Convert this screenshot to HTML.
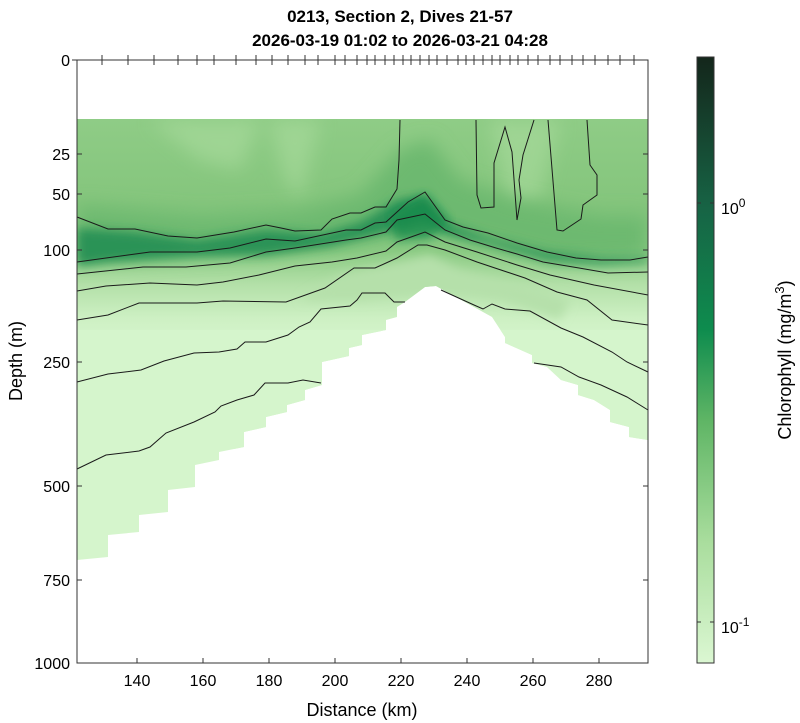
<!DOCTYPE html>
<html><head><style>body{margin:0;background:#fff}svg{display:block}text{font-family:"Liberation Sans",sans-serif}</style></head><body>
<svg width="800" height="723" viewBox="0 0 800 723">
<defs>
<linearGradient id="cb" x1="0" y1="1" x2="0" y2="0">
<stop offset="0" stop-color="#dbf7d2"/><stop offset="0.2" stop-color="#a9dd9d"/><stop offset="0.4" stop-color="#5fb565"/><stop offset="0.55" stop-color="#0e8c4e"/><stop offset="0.75" stop-color="#176445"/><stop offset="1" stop-color="#14261b"/>
</linearGradient>
<linearGradient id="main" x1="0" y1="119" x2="0" y2="340" gradientUnits="userSpaceOnUse">
<stop offset="0" stop-color="#8fcc86"/><stop offset="0.4" stop-color="#84c57c"/><stop offset="0.6" stop-color="#8ccb84"/><stop offset="0.75" stop-color="#b3e0a8"/><stop offset="0.9" stop-color="#cdf0c3"/><stop offset="1" stop-color="#d5f5cc"/>
</linearGradient>
<filter id="bl" x="-10%" y="-50%" width="120%" height="200%"><feGaussianBlur stdDeviation="5"/></filter>
<filter id="bl2" x="-10%" y="-50%" width="120%" height="200%"><feGaussianBlur stdDeviation="9"/></filter>
<clipPath id="dc"><polygon points="77,119 648,119 648,440 629,437 629,427 610,422 610,410 594,400 578,395 578,385 561,380 547,367 532,363 532,355 505,343 505,337 492,317 436,286 425,287 405,302 397,307 397,317 386,320 386,330 362,335 362,345 349,348 349,356 322,362 322,385 305,390 305,400 287,405 287,412 266,417 266,427 244,432 244,447 219,452 219,460 195,465 195,487 168,490 168,512 139,515 139,532 108,535 108,557 77,560"/></clipPath>
</defs>
<text x="400" y="22" font-size="17" font-weight="bold" text-anchor="middle">0213, Section 2, Dives 21-57</text>
<text x="400" y="46" font-size="17" font-weight="bold" text-anchor="middle">2026-03-19 01:02 to 2026-03-21 04:28</text>
<g clip-path="url(#dc)">
<rect x="77" y="119" width="571" height="330" fill="url(#main)"/>
<rect x="77" y="330" width="571" height="240" fill="#d5f5cc"/>
<g filter="url(#bl2)" opacity="0.6" fill="#aadc9e">
<polygon points="150,120 260,120 240,170 200,160"/>
<polygon points="270,120 320,120 300,200 285,180"/>
<polygon points="490,120 560,120 540,200 510,210"/>
</g>
<polygon filter="url(#bl2)" fill="#6db96f" points="77,205 200,215 300,210 360,195 400,150 430,140 460,180 520,200 600,215 648,215 648,258 560,262 440,232 380,240 300,250 77,262"/>
<polygon filter="url(#bl)" fill="#2c9356" points="77,228 135,232 197,240 266,230 321,234 361,222 397,200 425,196 445,222 488,238 547,252 601,258 648,258 648,262 601,264 547,260 488,244 445,234 425,220 386,232 330,246 266,255 197,256 106,262 77,266"/>
<polygon filter="url(#bl)" fill="#178a4c" opacity="0.8" points="390,215 425,195 450,222 430,238 395,240"/>
<polygon filter="url(#bl)" fill="#b5e0aa" points="300,300 340,275 400,262 430,255 460,270 520,285 570,300 560,320 500,300 440,290 360,300"/>
</g>
<g fill="none" stroke="#1a1a1a" stroke-width="1">
<polyline points="77,217 108,229 135,229 168,236 197,238 234,232 266,225 281,228 295,231 321,230 332,219 350,213 361,213 375,207 386,207 397,189 399,160 400,120"/>
<polyline points="77,262 106,258 150,252 197,252 230,248 266,239 295,241 346,230 361,230 375,223 386,222 408,202 425,192 445,220 463,227 488,233 517,243 547,252 576,258 601,260 630,260 648,257"/>
<polyline points="77,274 143,267 186,267 230,263 266,252 295,248 346,240 361,238 386,232 397,220 425,214 445,230 470,240 496,248 517,254 543,262 579,268 608,273 648,272"/>
<polyline points="77,291 106,286 150,283 197,285 223,282 259,275 295,266 332,262 357,258 386,251 397,242 425,232 445,242 477,252 517,265 550,275 594,285 648,295"/>
<polyline points="77,320 108,315 139,303 197,303 223,301 286,302 325,288 354,268 375,268 397,258 418,245 427,245 445,250 477,262 525,278 557,292 587,300 612,320 648,325"/>
<polyline points="77,382 108,374 141,370 164,361 194,353 219,352 237,349 245,342 266,342 288,335 299,327 310,322 321,309 350,306 357,300 362,293 385,293 394,302 405,302"/>
<polyline points="441,290 474,305 483,309 492,304 505,309 530,311 561,328 583,337 612,352 627,362 648,372"/>
<polyline points="534,363 561,367 579,377 601,385 627,397 648,410"/>
<polyline points="77,469 106,455 139,451 150,447 166,433 194,422 215,412 221,406 237,400 254,395 265,383 288,383 303,380 321,383"/>
<polyline points="476,120 477,195 481,208 494,207 494,163 505,127 512,152 517,220 521,198 519,180 523,155 534,120"/>
<polyline points="548,120 557,230 563,231 581,219 583,205 597,195 597,175 590,165 587,120"/>
</g>
<rect x="77" y="60" width="571" height="603" fill="none" stroke="#333" stroke-width="1"/>
<g stroke="#333">
<line x1="72" y1="60" x2="77" y2="60"/>
<line x1="77" y1="154" x2="82" y2="154"/><line x1="77" y1="194" x2="82" y2="194"/><line x1="77" y1="250" x2="82" y2="250"/><line x1="77" y1="362" x2="82" y2="362"/><line x1="77" y1="486" x2="82" y2="486"/><line x1="77" y1="580" x2="82" y2="580"/>
<line x1="648" y1="154" x2="643" y2="154"/><line x1="648" y1="194" x2="643" y2="194"/><line x1="648" y1="250" x2="643" y2="250"/><line x1="648" y1="362" x2="643" y2="362"/><line x1="648" y1="486" x2="643" y2="486"/><line x1="648" y1="580" x2="643" y2="580"/>
<line x1="137" y1="663" x2="137" y2="658"/><line x1="203" y1="663" x2="203" y2="658"/><line x1="269" y1="663" x2="269" y2="658"/><line x1="335" y1="663" x2="335" y2="658"/><line x1="401" y1="663" x2="401" y2="658"/><line x1="467" y1="663" x2="467" y2="658"/><line x1="533" y1="663" x2="533" y2="658"/><line x1="599" y1="663" x2="599" y2="658"/>
<path d="M102,55v10M128,55v10M154,55v10M178,55v10M197,55v10M214,55v10M236,55v10M256,55v10M272,55v10M288,55v10M305,55v10M318,55v10M335,55v10M345,55v10M357,55v10M367,55v10M375,55v10M385,55v10M394,55v10M403,55v10M411,55v10M420,55v10M429,55v10M437,55v10M447,55v10M458,55v10M466,55v10M474,55v10M483,55v10M492,55v10M500,55v10M510,55v10M518,55v10M528,55v10M538,55v10M550,55v10M560,55v10M572,55v10M583,55v10M595,55v10M608,55v10M620,55v10M634,55v10"/>
</g>
<g font-size="16" text-anchor="end">
<text x="70" y="66">0</text><text x="70" y="160">25</text><text x="70" y="200">50</text><text x="70" y="256">100</text><text x="70" y="368">250</text><text x="70" y="492">500</text><text x="70" y="586">750</text><text x="70" y="669">1000</text>
</g>
<g font-size="16" text-anchor="middle">
<text x="137" y="686">140</text><text x="203" y="686">160</text><text x="269" y="686">180</text><text x="335" y="686">200</text><text x="401" y="686">220</text><text x="467" y="686">240</text><text x="533" y="686">260</text><text x="599" y="686">280</text>
<text x="362" y="716" font-size="18">Distance (km)</text>
<text transform="translate(22,361) rotate(-90)" font-size="18">Depth (m)</text>
</g>
<rect x="697" y="57" width="17" height="606" fill="url(#cb)" stroke="#333"/>
<g stroke="#333"><line x1="697" y1="203" x2="701" y2="203"/><line x1="710" y1="203" x2="714" y2="203"/><line x1="697" y1="622" x2="701" y2="622"/><line x1="710" y1="622" x2="714" y2="622"/></g>
<text x="721" y="214" font-size="16">10<tspan dy="-7" font-size="12">0</tspan></text>
<text x="721" y="633" font-size="16">10<tspan dy="-7" font-size="12">-1</tspan></text>
<text transform="translate(791,360) rotate(-90)" font-size="18" text-anchor="middle">Chlorophyll (mg/m<tspan dy="-7" font-size="13">3</tspan><tspan dy="7">)</tspan></text>
</svg>
</body></html>
